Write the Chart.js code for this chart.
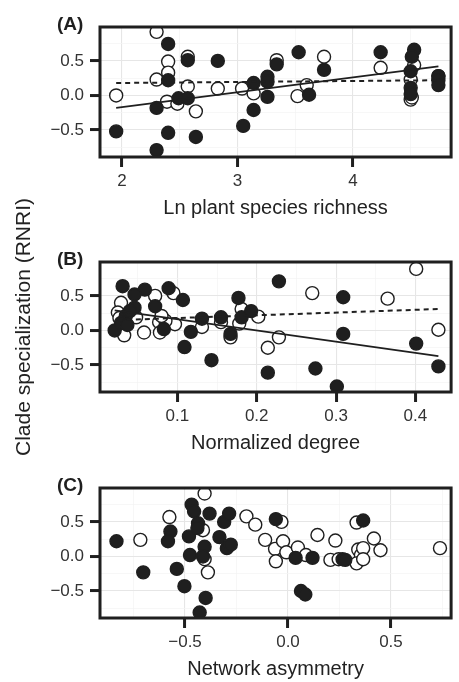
<!DOCTYPE html>
<html>
<head>
<meta charset="utf-8">
<script src="https://cdn.jsdelivr.net/npm/chart.js@4"></script>
<style>
  html, body { margin: 0; padding: 0; background: #fff; overflow: hidden; }
  body { width: 459px; height: 682px; position: relative; }
  canvas { position: absolute; left: 0; }
  #ytitle {
    position: absolute; left: 23px; top: 327px; width: 320px;
    transform: translate(-50%, -50%) rotate(-90deg);
    text-align: center; white-space: nowrap; line-height: 24px;
    font: 21px "Liberation Sans", Arial, sans-serif; color: #222;
  }
</style>
</head>
<body>
<canvas id="chartA" width="459" height="223" style="top:0px"></canvas>
<canvas id="chartB" width="459" height="235" style="top:223px"></canvas>
<canvas id="chartC" width="459" height="226" style="top:458px"></canvas>
<div id="ytitle">Clade specialization (RNRI)</div>
<script>
// shared y axis
const yTicks = [-0.5, 0, 0.5];
const yMinor = [-0.75, -0.25, 0.25, 0.75];

// (A) plant species richness
const aTicks = [2, 3, 4];
const aMinor = [2.5, 3.5, 4.5];
const aOpenX = [1.95, 2.30, 2.40, 2.40, 2.30, 2.39, 2.48, 2.57, 2.64, 2.57, 2.83, 3.04, 3.14, 3.34, 3.52, 3.60, 3.75, 4.24, 4.53, 4.50, 4.50, 4.51, 4.74];
const aOpenY = [0.00, 0.92, 0.49, 0.33, 0.23, -0.09, -0.12, 0.13, -0.23, 0.56, 0.10, 0.10, 0.03, 0.51, -0.01, 0.15, 0.56, 0.40, 0.44, 0.23, -0.06, -0.03, 0.28];
const aFillX = [1.95, 2.40, 2.40, 2.30, 2.49, 2.57, 2.40, 2.30, 2.64, 2.57, 2.83, 3.05, 3.14, 3.14, 3.26, 3.26, 3.26, 3.34, 3.53, 3.62, 3.75, 4.24, 4.53, 4.51, 4.50, 4.50, 4.50, 4.74, 4.74, 4.74];
const aFillY = [-0.52, 0.745, 0.22, -0.18, -0.04, -0.04, -0.54, -0.79, -0.60, 0.51, 0.50, -0.44, -0.21, 0.18, 0.27, 0.20, -0.02, 0.45, 0.625, 0.01, 0.37, 0.625, 0.66, 0.56, 0.35, 0.11, 0.02, 0.28, 0.22, 0.15];
const aSolidX = [1.95, 4.74], aSolidY = [-0.18, 0.42];
const aDashX = [1.95, 4.74], aDashY = [0.18, 0.22];

// (B) normalized degree
const bTicks = [0.1, 0.2, 0.3, 0.4];
const bMinor = [0.05, 0.15, 0.25, 0.35];
const bOpenX = [0.095, 0.072, 0.029, 0.025, 0.027, 0.048, 0.033, 0.058, 0.077, 0.078, 0.097, 0.085, 0.080, 0.131, 0.155, 0.167, 0.181, 0.178, 0.202, 0.214, 0.228, 0.270, 0.365, 0.401, 0.429];
const bOpenY = [0.54, 0.50, 0.40, 0.26, 0.18, 0.19, -0.07, -0.03, 0.12, -0.03, 0.09, 0.14, 0.21, 0.05, 0.12, -0.10, 0.31, 0.10, 0.20, -0.25, -0.10, 0.54, 0.46, 0.89, 0.01];
const bFillX = [0.031, 0.059, 0.089, 0.046, 0.107, 0.072, 0.046, 0.035, 0.021, 0.029, 0.040, 0.037, 0.083, 0.117, 0.109, 0.131, 0.143, 0.155, 0.167, 0.177, 0.181, 0.193, 0.214, 0.228, 0.274, 0.301, 0.309, 0.309, 0.401, 0.429];
const bFillY = [0.64, 0.59, 0.61, 0.52, 0.44, 0.35, 0.33, 0.21, 0.00, 0.11, 0.28, 0.08, 0.02, -0.02, -0.24, 0.17, -0.43, 0.19, -0.05, 0.47, 0.19, 0.28, -0.61, 0.71, -0.55, -0.81, 0.48, -0.05, -0.19, -0.52];
const bSolidX = [0.021, 0.429], bSolidY = [0.29, -0.37];
const bDashX = [0.025, 0.429], bDashY = [0.15, 0.31];

// (C) network asymmetry
const cTicks = [-0.5, 0, 0.5];
const cMinor = [-0.75, -0.25, 0.25, 0.75];
const cOpenX = [-0.717, -0.576, -0.413, -0.405, -0.405, -0.389, -0.202, -0.159, -0.111, -0.032, -0.063, -0.059, -0.024, -0.008, 0.048, 0.087, 0.143, 0.230, 0.206, 0.246, 0.333, 0.341, 0.354, 0.333, 0.365, 0.365, 0.417, 0.449, 0.738];
const cOpenY = [0.24, 0.57, 0.38, 0.91, -0.04, -0.23, 0.58, 0.46, 0.24, 0.50, 0.11, -0.07, 0.22, 0.06, 0.13, 0.02, 0.31, 0.23, -0.05, -0.04, 0.49, 0.10, 0.02, -0.10, 0.12, -0.04, 0.26, 0.09, 0.12];
const cFillX = [-0.833, -0.703, -0.571, -0.583, -0.540, -0.503, -0.468, -0.456, -0.481, -0.476, -0.437, -0.440, -0.381, -0.405, -0.413, -0.400, -0.429, -0.333, -0.310, -0.286, -0.297, -0.278, -0.059, 0.037, 0.063, 0.084, 0.119, 0.265, 0.278, 0.365];
const cFillY = [0.22, -0.23, 0.36, 0.22, -0.18, -0.43, 0.75, 0.65, 0.29, 0.02, 0.48, 0.41, 0.62, 0.14, 0.00, -0.60, -0.81, 0.28, 0.50, 0.62, 0.12, 0.17, 0.54, -0.02, -0.50, -0.55, -0.02, -0.04, -0.05, 0.52];

const FONT = '"Liberation Sans", Arial, sans-serif';
const INK = '#1f1f1f';

function pts(xs, ys) {
  return xs.map((x, i) => ({ x: x, y: ys[i] }));
}

function fmt(v, dec) {
  const s = Math.abs(v).toFixed(dec);
  return v < 0 ? '\u2212' + s : s;
}

const framePlugin = {
  id: 'frame',
  afterDatasetsDraw(chart, args, opts) {
    const { ctx, chartArea: a } = chart;
    ctx.save();
    ctx.strokeStyle = INK;
    ctx.lineWidth = 3;
    ctx.strokeRect(a.left, a.top, a.right - a.left, a.bottom - a.top);
    ctx.font = 'bold 19px ' + FONT;
    ctx.fillStyle = INK;
    ctx.textBaseline = 'alphabetic';
    ctx.fillText(opts.tag, 57, a.top + 3);
    ctx.restore();
  }
};

function axisGrid(minor) {
  const isMinor = ctx => ctx.tick && minor.some(m => Math.abs(m - ctx.tick.value) < 1e-9);
  return {
    color: ctx => isMinor(ctx) ? '#f3f3f3' : '#e6e6e6',
    lineWidth: ctx => isMinor(ctx) ? 0.7 : 1.1,
    tickColor: ctx => isMinor(ctx) ? 'rgba(0,0,0,0)' : INK,
    tickWidth: 3,
    tickLength: 10,
    drawTicks: true
  };
}

function makePanel(id, p) {
  const xAll = p.xTicks.concat(p.xMinor).sort((a, b) => a - b);
  const yAll = yTicks.concat(yMinor).sort((a, b) => a - b);
  const datasets = [];
  if (p.solidX) {
    datasets.push({
      type: 'line', data: pts(p.solidX, p.solidY), borderColor: INK,
      borderWidth: 1.7, pointRadius: 0, fill: false, clip: 0
    });
    datasets.push({
      type: 'line', data: pts(p.dashX, p.dashY), borderColor: INK,
      borderWidth: 2, borderDash: [5, 4], pointRadius: 0, fill: false, clip: 0
    });
  }
  datasets.push({
    type: 'scatter', data: pts(p.fillX, p.fillY),
    backgroundColor: INK, borderColor: INK, borderWidth: 1.4, pointRadius: 6.5, clip: 0
  });
  datasets.push({
    type: 'scatter', data: pts(p.openX, p.openY),
    backgroundColor: '#ffffff', borderColor: INK, borderWidth: 1.4, pointRadius: 6.5, clip: 0
  });

  return new Chart(document.getElementById(id), {
    type: 'scatter',
    data: { datasets: datasets },
    plugins: [framePlugin],
    options: {
      responsive: false,
      animation: false,
      events: [],
      layout: { padding: { top: p.padTop, right: 1, left: 0, bottom: 0 } },
      plugins: {
        legend: { display: false },
        tooltip: { enabled: false },
        frame: { tag: p.tag }
      },
      scales: {
        x: {
          type: 'linear', min: p.xMin, max: p.xMax,
          afterBuildTicks: s => { s.ticks = xAll.map(v => ({ value: v })); },
          afterFit: s => { s.height = 66; },
          grid: axisGrid(p.xMinor),
          border: { display: false },
          ticks: {
            autoSkip: false, maxRotation: 0, padding: 4,
            color: '#333', font: { family: FONT, size: 17 },
            callback: v => p.xTicks.some(t => Math.abs(t - v) < 1e-9) ? fmt(v, p.xDec) : ''
          },
          title: {
            display: true, text: p.xTitle, color: '#222',
            font: { family: FONT, size: 20 }, padding: { top: 0, bottom: 3 }
          }
        },
        y: {
          type: 'linear', min: -0.89, max: 0.99,
          afterBuildTicks: s => { s.ticks = yAll.map(v => ({ value: v })); },
          afterFit: s => { s.width = 100; },
          grid: axisGrid(yMinor),
          border: { display: false },
          ticks: {
            autoSkip: false, padding: 6,
            color: '#333', font: { family: FONT, size: 17 },
            callback: v => yTicks.some(t => Math.abs(t - v) < 1e-9) ? fmt(v, 1) : ''
          }
        }
      }
    }
  });
}

makePanel('chartA', {
  tag: '(A)', padTop: 27, xTitle: 'Ln plant species richness', xDec: 0,
  xMin: 1.81, xMax: 4.85, xTicks: aTicks, xMinor: aMinor,
  openX: aOpenX, openY: aOpenY, fillX: aFillX, fillY: aFillY,
  solidX: aSolidX, solidY: aSolidY, dashX: aDashX, dashY: aDashY
});

makePanel('chartB', {
  tag: '(B)', padTop: 39, xTitle: 'Normalized degree', xDec: 1,
  xMin: 0.0025, xMax: 0.445, xTicks: bTicks, xMinor: bMinor,
  openX: bOpenX, openY: bOpenY, fillX: bFillX, fillY: bFillY,
  solidX: bSolidX, solidY: bSolidY, dashX: bDashX, dashY: bDashY
});

makePanel('chartC', {
  tag: '(C)', padTop: 30, xTitle: 'Network asymmetry', xDec: 1,
  xMin: -0.913, xMax: 0.792, xTicks: cTicks, xMinor: cMinor,
  openX: cOpenX, openY: cOpenY, fillX: cFillX, fillY: cFillY
});
</script>
</body>
</html>
